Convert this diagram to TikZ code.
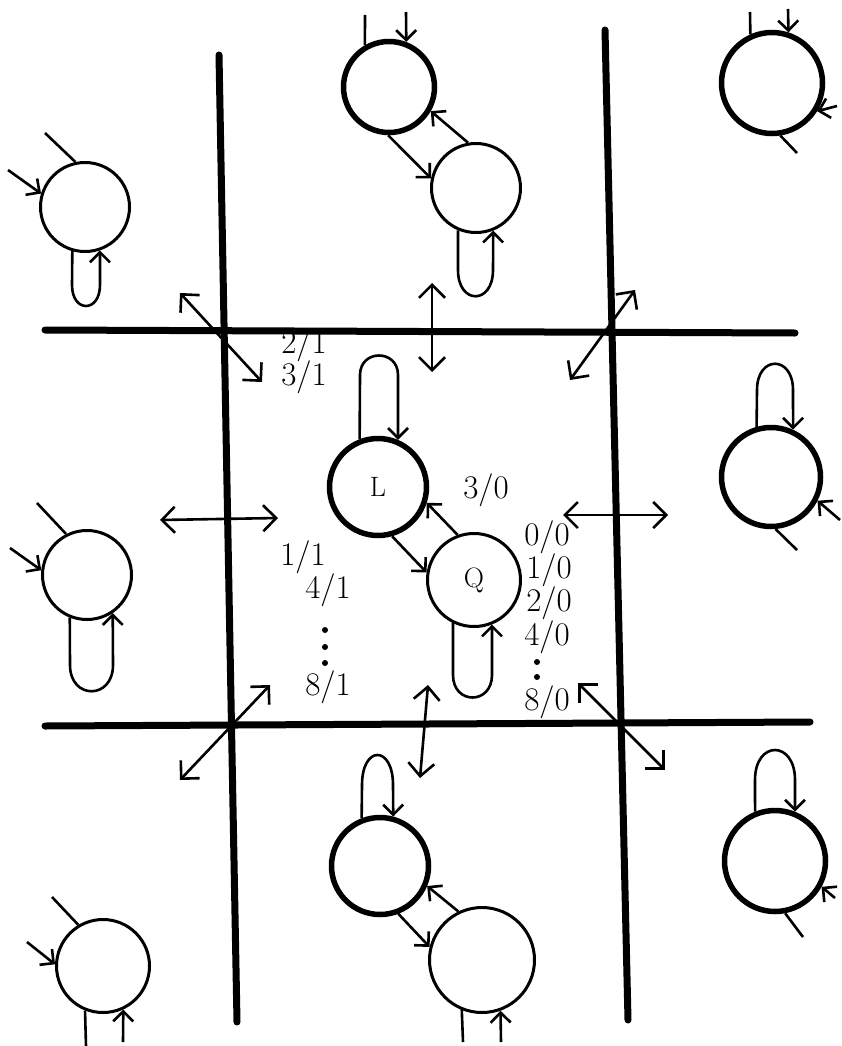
\documentclass[tikz,border=0pt]{standalone}
\usepackage{fontspec}
\usetikzlibrary{arrows.meta}
\tikzset{
  bigstate/.style={circle, draw, line width=5.5pt, inner sep=0pt,
    font=\fontsize{28}{30}\selectfont},
  smallstate/.style={circle, draw, line width=3pt, inner sep=0pt,
    font=\fontsize{28}{30}\selectfont},
  arr/.style={-{Straight Barb[length=10pt,width=20pt]}, line width=2.6pt},
  stub/.style={line width=2.6pt},
  dbl/.style={{Straight Barb[length=13pt,width=26pt]}-{Straight Barb[length=13pt,width=26pt]}, line width=2.6pt},
  wall/.style={line width=7pt, line cap=round},
  lbl/.style={font=\fontsize{33}{35}\selectfont, inner sep=0pt},
  dot/.style={circle, fill, inner sep=0pt, minimum size=6pt}
}
\begin{document}
\begin{tikzpicture}[x=1pt,y=-1pt]
\useasboundingbox (0,0) rectangle (842,1046);
% walls between the cells
\draw[wall] (219,55) -- (237,1022);
\draw[wall] (605,30) -- (628,1020);
\draw[wall] (45,330) -- (795,333);
\draw[wall] (45,726) -- (810,722);

% centre cell
\node[bigstate, minimum size=97pt] (L) at (378,487) {L};
\node[smallstate, minimum size=93pt] (Q) at (474,580) {Q};
\draw[arr] (L.-74) -- (Q.171);
\draw[arr] (Q.110) -- (L.-18);
\draw[arr] (L.111) -- (360,375) .. controls (360,349) and (398,349) .. (398,375) -- (L.67);
\draw[arr] (Q.-116) -- (453,675) .. controls (453,705) and (492,705) .. (492,675) -- (Q.-68);
\node[lbl] (l30) at (486,490) {3/0};
\node[lbl] (l00) at (547,537) {0/0};
\node[lbl] (l10) at (549,570) {1/0};
\node[lbl] (l20) at (549,603) {2/0};
\node[lbl] (l40) at (547,637) {4/0};
\node[dot] (qd1) at (537,662) {};
\node[dot] (qd2) at (537,677) {};
\node[lbl] (l80) at (547,702) {8/0};
\node[lbl] (l11) at (303,557) {1/1};
\node[lbl] (l41) at (328,590) {4/1};
\node[dot] (ld1) at (325,630) {};
\node[dot] (ld2) at (325,647) {};
\node[dot] (ld3) at (325,663) {};
\node[lbl] (l81) at (328,687) {8/1};
\node[lbl] (l21) at (304,345) {2/1};
\node[lbl] (l31) at (304,377) {3/1};

% moves to the neighbour cells
\coordinate (hl1) at (160,520); \coordinate (hl2) at (278,518);
\coordinate (hr1) at (563,515); \coordinate (hr2) at (668,515);
\coordinate (vt1) at (432,283); \coordinate (vt2) at (432,372);
\coordinate (vb1) at (428,685); \coordinate (vb2) at (420,778);
\coordinate (dtl1) at (180,293); \coordinate (dtl2) at (262,382);
\coordinate (dtr1) at (570,380); \coordinate (dtr2) at (635,290);
\coordinate (dbl1) at (180,780); \coordinate (dbl2) at (270,685);
\coordinate (dbr1) at (578,683); \coordinate (dbr2) at (665,770);
\draw[dbl] (hl1) -- (hl2);
\draw[dbl] (hr1) -- (hr2);
\draw[dbl] (vt1) -- (vt2);
\draw[dbl] (vb1) -- (vb2);
\draw[dbl] (dtl1) -- (dtl2);
\draw[dbl] (dtr1) -- (dtr2);
\draw[dbl] (dbl1) -- (dbl2);
\draw[dbl] (dbr1) -- (dbr2);

% top middle cell
\node[bigstate, minimum size=91pt] (TA) at (389,87) {};
\node[smallstate, minimum size=89pt] (TB) at (476,188) {};
\coordinate (ta0) at (365,15); \coordinate (ta1) at (406,12);
\draw[stub] (ta0) -- (TA.120);
\draw[arr] (ta1) -- (TA.69);
\draw[arr] (TA.-91) -- (TB.168);
\draw[arr] (TB.100) -- (TA.-30);
\draw[arr] (TB.-113) -- (458,270) .. controls (458,305) and (493,305) .. (493,270) -- (TB.-68);

% top left cell
\node[smallstate, minimum size=89pt] (TL) at (85,207) {};
\coordinate (tl0) at (45,133); \coordinate (tl1) at (8,170);
\draw[stub] (tl0) -- (TL.102);
\draw[arr] (tl1) -- (TL.163);
\draw[arr] (TL.-106) -- (72,285) .. controls (72,313) and (100,313) .. (100,285) -- (TL.-71);

% top right cell
\node[bigstate, minimum size=101pt] (TR) at (772,83) {};
\coordinate (tr0) at (750,12); \coordinate (tr1) at (788,9);
\coordinate (tr2) at (837,106); \coordinate (tr3) at (797,153);
\draw[stub] (tr0) -- (TR.114);
\draw[arr] (tr1) -- (TR.72);
\draw[arr] (tr2) -- (TR.-32);
\draw[stub] (TR.-81) -- (tr3);

% left middle cell
\node[smallstate, minimum size=89pt] (LM) at (87,575) {};
\coordinate (lm0) at (37,503); \coordinate (lm1) at (10,548);
\draw[stub] (lm0) -- (LM.117);
\draw[arr] (lm1) -- (LM.174);
\draw[arr] (LM.-112) -- (70,665) .. controls (70,700) and (113,700) .. (113,665) -- (LM.-56);

% right middle cell
\node[bigstate, minimum size=99pt] (RM) at (771,477) {};
\coordinate (rm0) at (840,520); \coordinate (rm1) at (797,550);
\draw[arr] (RM.106) -- (757,390) .. controls (757,355) and (793,355) .. (793,390) -- (RM.65);
\draw[arr] (rm0) -- (RM.-27);
\draw[stub] (RM.-85) -- (rm1);

% bottom left cell
\node[smallstate, minimum size=93pt] (BL) at (103,966) {};
\coordinate (bl0) at (52,897); \coordinate (bl1) at (27,942);
\coordinate (bl2) at (86,1046); \coordinate (bl3) at (123,1042);
\draw[stub] (bl0) -- (BL.121);
\draw[arr] (bl1) -- (BL.178);
\draw[stub] (BL.-112) -- (bl2);
\draw[arr] (bl3) -- (BL.-65);

% bottom middle cell
\node[bigstate, minimum size=97pt] (BA) at (380,866) {};
\node[smallstate, minimum size=105pt] (BB) at (482,960) {};
\coordinate (bb0) at (463,1042); \coordinate (bb1) at (501,1042);
\draw[arr] (BA.111) -- (362,785) .. controls (362,745) and (393,745) .. (393,785) -- (BA.75);
\draw[arr] (BA.-69) -- (BB.166);
\draw[arr] (BB.116) -- (BA.-23);
\draw[stub] (BB.-112) -- (bb0);
\draw[arr] (bb1) -- (BB.-70);

% bottom right cell
\node[bigstate, minimum size=101pt] (BR) at (775,861) {};
\coordinate (br0) at (835,898); \coordinate (br1) at (803,937);
\draw[arr] (BR.112) -- (755,780) .. controls (755,740) and (795,740) .. (795,780) -- (BR.68);
\draw[arr] (br0) -- (BR.-29);
\draw[stub] (BR.-79) -- (br1);
\end{tikzpicture}
\end{document}
